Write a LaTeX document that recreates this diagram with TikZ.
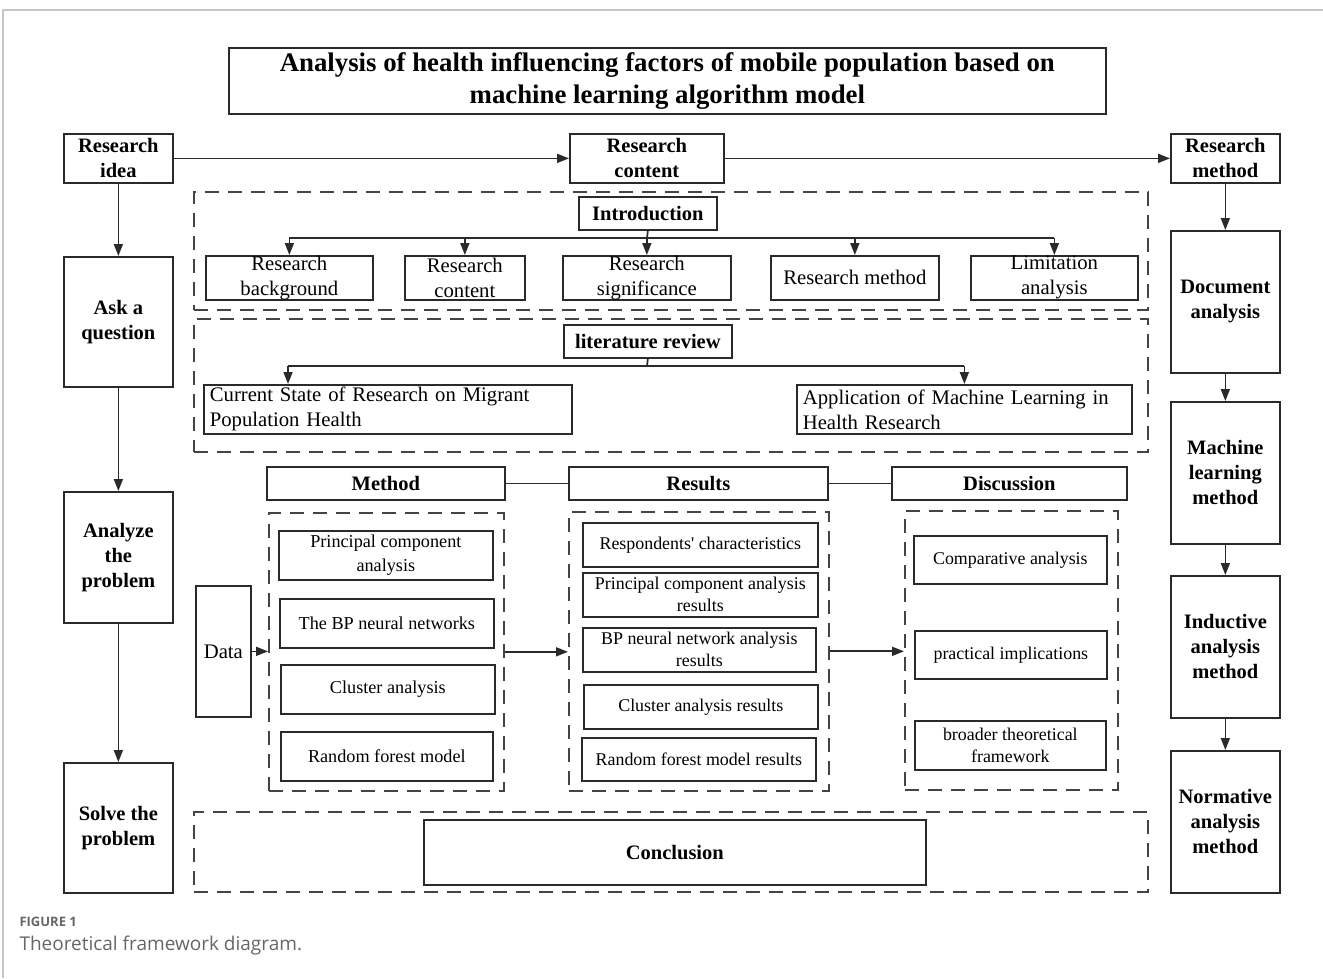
\documentclass[tikz,border=0pt]{standalone}
\usepackage{fontspec}
\setmainfont{Liberation Serif}
\newfontfamily\capfont{Open Sans}
\usetikzlibrary{arrows.meta}
\definecolor{ln}{HTML}{2a2a2a}
\definecolor{dl}{HTML}{444444}
\definecolor{capgray}{HTML}{666666}
\begin{document}
\begin{tikzpicture}[x=1pt,y=-1pt,
  bx/.style={draw=ln, line width=1.7pt, inner sep=0pt, anchor=north west, align=center},
  dbx/.style={draw=dl, line width=1.6pt, dash pattern=on 14pt off 9pt, inner sep=0pt, anchor=north west},
  bold20/.style={font=\fontsize{20.5}{25}\selectfont\bfseries},
  reg20/.style={font=\fontsize{20.7}{25}\selectfont},
  reg18/.style={font=\fontsize{18.2}{24}\selectfont},
  reg17/.style={font=\fontsize{17.9}{22}\selectfont},
  arr/.style={-{Triangle[length=12pt,width=9pt]}, line width=1.7pt, draw=ln},
  con/.style={line width=1.7pt, draw=ln}]
\useasboundingbox (0,0) rectangle (1323,978);
% page frame
\draw[gray!45, line width=1.5pt] (3,978) -- (3,10) -- (1323,10);
% title
\node[bx, minimum width=877pt, minimum height=66pt, font=\fontsize{26.8}{32}\selectfont\bfseries] (title) at (228,47)
  {Analysis of health influencing factors of mobile population based on\\machine learning algorithm model};
% top row
\node[bx, bold20, minimum width=109pt, minimum height=49pt] (idea) at (63,133) {Research\\idea};
\node[bx, bold20, minimum width=154pt, minimum height=49pt] (content) at (569,133) {Research\\content};
\node[bx, bold20, minimum width=109pt, minimum height=49pt] (rmethod) at (1170,133) {Research\\method};
% left column
\node[bx, bold20, minimum width=109pt, minimum height=130pt] (ask) at (63,256) {Ask a\\question};
\node[bx, bold20, minimum width=109pt, minimum height=131pt] (analyze) at (63,491) {Analyze\\the\\problem};
\node[bx, bold20, minimum width=109pt, minimum height=130pt] (solve) at (63,762) {Solve the\\problem};
% right column
\node[bx, bold20, minimum width=109pt, minimum height=142pt] (doc) at (1170,230) {Document\\analysis};
\node[bx, bold20, minimum width=109pt, minimum height=142pt] (ml) at (1170,401) {Machine\\learning\\method};
\node[bx, bold20, minimum width=109pt, minimum height=142pt] (ind) at (1170,575) {Inductive\\analysis\\method};
\node[bx, bold20, minimum width=109pt, minimum height=142pt] (norm) at (1170,750) {Normative\\analysis\\method};
% introduction
\node[dbx, minimum width=954pt, minimum height=118pt] (introbox) at (193,191) {};
\node[bx, bold20, minimum width=138pt, minimum height=33pt] (intro) at (578,196) {Introduction};
\node[bx, reg20, minimum width=167pt, minimum height=44pt] (c1) at (205,255) {Research\\background};
\node[bx, reg20, minimum width=120pt, minimum height=44pt] (c2) at (404,255) {Research\\content};
\node[bx, reg20, minimum width=168pt, minimum height=44pt] (c3) at (562,255) {Research\\significance};
\node[bx, reg20, minimum width=168pt, minimum height=44pt] (c4) at (770,255) {Research method};
\node[bx, reg20, minimum width=167pt, minimum height=44pt] (c5) at (970,255) {Limitation\\analysis};
\coordinate (ibus) at (647,238);
% literature review
\node[dbx, minimum width=954pt, minimum height=133pt] (litbox) at (193,318) {};
\node[bx, bold20, minimum width=168pt, minimum height=33pt] (lit) at (563,324) {literature review};
\node[bx, reg20, align=left, text width=356pt, minimum width=368pt, minimum height=49pt] (l1) at (203,384)
  {Current State of Research on Migrant\\Population Health};
\node[bx, reg20, align=left, text width=323pt, minimum width=335pt, minimum height=49pt] (l2) at (796,384)
  {Application of Machine Learning in\\Health Research};
\coordinate (lbus) at (647,366);
\coordinate (l1in) at (288,384);
% headers
\node[bx, bold20, minimum width=238pt, minimum height=33pt] (mh) at (266,466) {Method};
\node[bx, bold20, minimum width=259pt, minimum height=33pt] (rh) at (568,466) {Results};
\node[bx, bold20, minimum width=235pt, minimum height=33pt] (dh) at (891,466) {Discussion};
% method
\node[dbx, minimum width=235pt, minimum height=278pt] (mbox) at (268,512) {};
\node[bx, reg18, minimum width=214pt, minimum height=49pt] (m1) at (278,530) {Principal component\\analysis};
\node[bx, reg18, minimum width=214pt, minimum height=49pt] (m2) at (279,598) {The BP neural networks};
\node[bx, reg18, minimum width=214pt, minimum height=49pt] (m3) at (280,664) {Cluster analysis};
\node[bx, reg18, minimum width=212pt, minimum height=49pt] (m4) at (280,731) {Random forest model};
\node[bx, reg20, minimum width=55pt, minimum height=131pt] (data) at (195,585) {Data};
% results
\node[dbx, minimum width=260pt, minimum height=279pt] (rbox) at (568,511) {};
\node[bx, reg17, minimum width=235pt, minimum height=44pt] (r1) at (582,522) {Respondents\textquotesingle{} characteristics};
\node[bx, reg17, minimum width=235pt, minimum height=44pt] (r2) at (582,572) {Principal component analysis\\results};
\node[bx, reg17, minimum width=233pt, minimum height=44pt] (r3) at (582,627) {BP neural network analysis\\results};
\node[bx, reg17, minimum width=234pt, minimum height=44pt] (r4) at (583,684) {Cluster analysis results};
\node[bx, reg17, minimum width=234pt, minimum height=43pt] (r5) at (581,737) {Random forest model results};
% discussion
\node[dbx, minimum width=213pt, minimum height=279pt] (dbox) at (904,510) {};
\node[bx, reg17, minimum width=193pt, minimum height=48pt] (d1) at (913,535) {Comparative analysis};
\node[bx, reg17, minimum width=192pt, minimum height=48pt] (d2) at (914,630) {practical implications};
\node[bx, reg17, minimum width=191pt, minimum height=49pt] (d3) at (914,720) {broader theoretical\\framework};
% conclusion
\node[dbx, minimum width=954pt, minimum height=80pt] (cbox) at (193,811) {};
\node[bx, bold20, minimum width=502pt, minimum height=65pt] (concl) at (423,819) {Conclusion};
% connectors top
\draw[arr] (idea.east) -- (content.west);
\draw[arr] (content.east) -- (rmethod.west);
\draw[arr] (idea.south) -- (ask.north);
\draw[arr] (ask.south) -- (analyze.north);
\draw[arr] (analyze.south) -- (solve.north);
\draw[arr] (rmethod.south) -- (doc.north);
\draw[arr] (doc.south) -- (ml.north);
\draw[arr] (ml.south) -- (ind.north);
\draw[arr] (ind.south) -- (norm.north);
% intro tree
\draw[con] (intro.south) -- (ibus);
\draw[con] (c1.north |- ibus) -- (c5.north |- ibus);
\foreach \c in {c1,c2,c3,c4,c5} \draw[arr] (\c.north |- ibus) -- (\c.north);
% lit tree
\draw[con] (lit.south) -- (lbus);
\draw[con] (l1in |- lbus) -- (l2.north |- lbus);
\draw[arr] (l1in |- lbus) -- (l1in);
\draw[arr] (l2.north |- lbus) -- (l2.north);
% headers
\draw[con] (mh.east) -- (rh.west);
\draw[con] (rh.east) -- (dh.west);
% flow
\draw[arr] (data.east) -- (data.east -| mbox.west);
\draw[arr] (mbox.east) -- (mbox.east -| rbox.west);
\draw[arr] (rbox.east) -- (rbox.east -| dbox.west);
% caption
\node[anchor=west, text=capgray, font=\capfont\fontsize{13}{15}\selectfont\bfseries] (figlab) at (16,922) {FIGURE 1};
\node[anchor=west, text=capgray, font=\capfont\fontsize{19}{22}\selectfont] (figcap) at (16,945) {Theoretical framework diagram.};
\end{tikzpicture}
\end{document}
